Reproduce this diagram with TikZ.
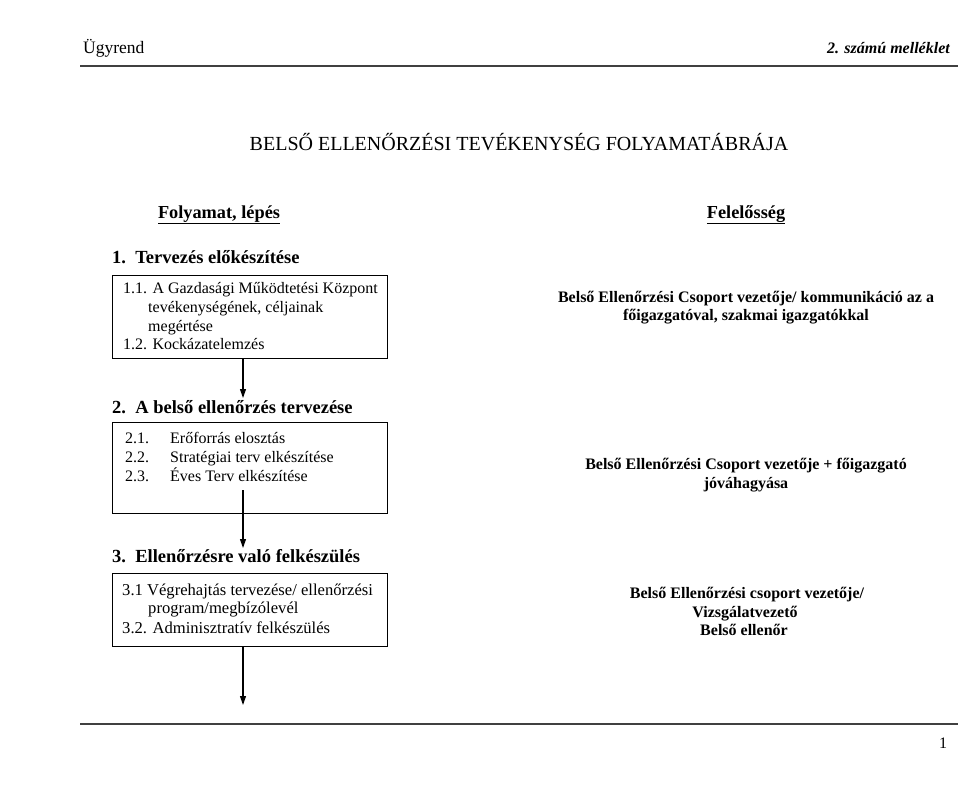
\documentclass[tikz,border=0pt]{standalone}
\usepackage{fontspec}
\setmainfont{Liberation Serif}
\usetikzlibrary{arrows.meta}
\tikzset{
  txt/.style={inner sep=0pt, anchor=base west, font=\fontsize{16}{19}\selectfont},
  txtb/.style={inner sep=0pt, anchor=base west, font=\fontsize{16.6}{19}\selectfont},
  rtxt/.style={inner sep=0pt, anchor=base, font=\fontsize{16}{19}\selectfont\bfseries},
  head/.style={inner sep=0pt, anchor=base west, font=\fontsize{18.5}{22}\selectfont\bfseries},
  colhead/.style={inner sep=0pt, anchor=base, font=\fontsize{18.3}{22}\selectfont\bfseries},
  box/.style={draw, line width=1.1pt, minimum width=275pt, minimum height=#1, inner sep=0pt, anchor=north west},
  flow/.style={line width=1.1pt, -{Triangle[length=9pt,width=6pt]}},
  rule/.style={line width=1.8pt, draw=black!75}
}
\begin{document}
\begin{tikzpicture}[x=1pt,y=-1pt]
\useasboundingbox (0,0) rectangle (960,790);
% header
\node[txt, font=\fontsize{17.5}{20}\selectfont] (ugy) at (83,53) {Ügyrend};
\node[inner sep=0pt, anchor=base east, font=\fontsize{16}{19}\selectfont\bfseries\itshape] (mell) at (950,53) {2. számú melléklet};
\coordinate (hl) at (80,66); \coordinate (hr) at (958,66);
\draw[rule] (hl) -- (hr);
% title
\node[inner sep=0pt, anchor=base, font=\fontsize{20}{24}\selectfont] (title) at (519,150) {BELSŐ ELLENŐRZÉSI TEVÉKENYSÉG FOLYAMATÁBRÁJA};
\node[colhead] (fol) at (219,218) {\underline{Folyamat, lépés}};
\node[colhead] (fel) at (746,218) {\underline{Felelősség}};
% step 1
\node[head] (h1) at (112,263) {1.\ \ Tervezés előkészítése};
\node[box=83pt] (b1) at (112,275) {};
\node[txt] (l11) at (123,293) {1.1. A Gazdasági Működtetési Központ};
\node[txt] (l12) at (148,312) {tevékenységének, céljainak};
\node[txt] (l13) at (148,331) {megértése};
\node[txt] (l14) at (123,349) {1.2. Kockázatelemzés};
\node[rtxt] (r11) at (746,302) {Belső Ellenőrzési Csoport vezetője/ kommunikáció az a};
\node[rtxt] (r12) at (746,320) {főigazgatóval, szakmai igazgatókkal};
% step 2
\node[head] (h2) at (112,413) {2.\ \ A belső ellenőrzés tervezése};
\node[box=91pt] (b2) at (112,422) {};
\node[txt] (l21) at (125,443) {2.1.};
\node[txt] (l21b) at (170,443) {Erőforrás elosztás};
\node[txt] (l22) at (125,462) {2.2.};
\node[txt] (l22b) at (170,462) {Stratégiai terv elkészítése};
\node[txt] (l23) at (125,481) {2.3.};
\node[txt] (l23b) at (170,481) {Éves Terv elkészítése};
\node[rtxt] (r21) at (746,469) {Belső Ellenőrzési Csoport vezetője + főigazgató};
\node[rtxt] (r22) at (746,488) {jóváhagyása};
% step 3
\node[head] (h3) at (112,562) {3.\ \ Ellenőrzésre való felkészülés};
\node[box=73pt] (b3) at (112,573) {};
\node[txtb] (l31) at (122,595) {3.1 Végrehajtás tervezése/ ellenőrzési};
\node[txtb] (l32) at (148,613) {program/megbízólevél};
\node[txtb] (l33) at (122,633) {3.2. Adminisztratív felkészülés};
\node[rtxt] (r31) at (747,598) {Belső Ellenőrzési csoport vezetője/};
\node[rtxt] (r32) at (745,617) {Vizsgálatvezető};
\node[rtxt] (r33) at (744,635) {Belső ellenőr};
% connectors
\coordinate (a1e) at (243,398);
\draw[flow] (b1.south -| a1e) -- (a1e);
\coordinate (a2s) at (243,490);
\coordinate (a2e) at (243,548);
\draw[flow] (a2s) -- (a2e);
\coordinate (a3e) at (243,705);
\draw[flow] (b3.south -| a3e) -- (a3e);
% footer
\coordinate (fl) at (80,724); \coordinate (fr) at (958,724);
\draw[rule] (fl) -- (fr);
\node[txt] (pg) at (939,748) {1};
\end{tikzpicture}
\end{document}
